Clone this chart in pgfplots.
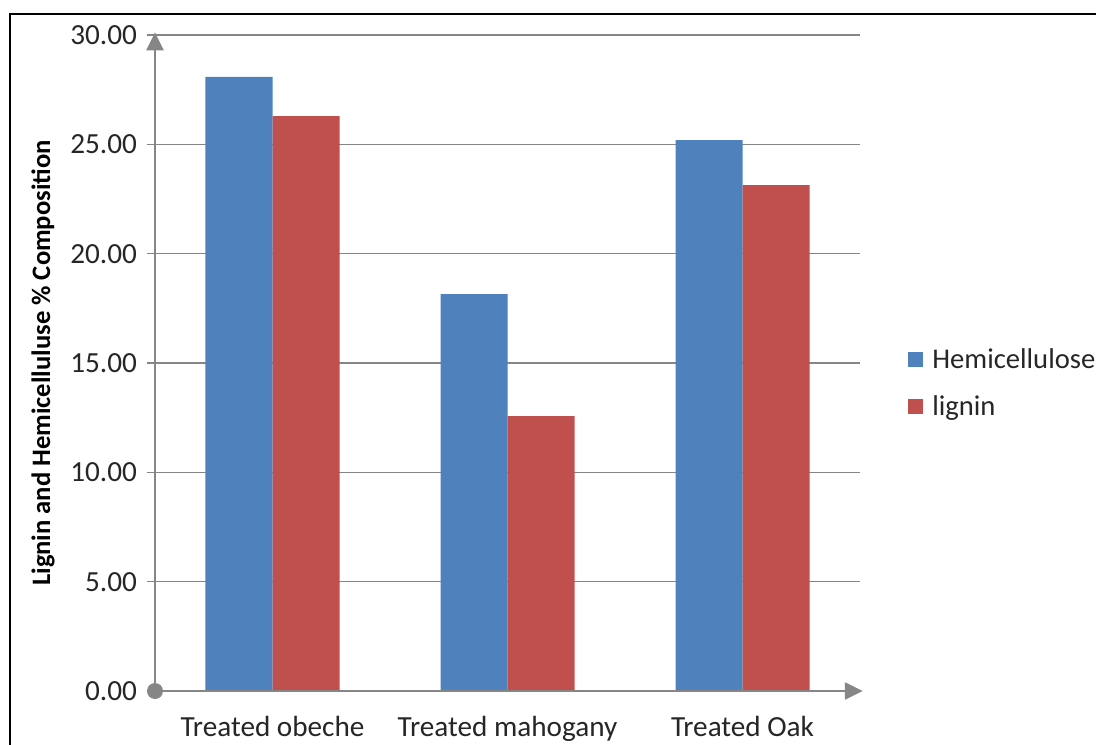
\documentclass[border=0pt]{standalone}
\usepackage{pgfplots}
\pgfplotsset{compat=1.18}
\usepackage{fontspec}
\setmainfont{Carlito}
\usetikzlibrary{arrows.meta}
\definecolor{hemi}{RGB}{79,129,189}
\definecolor{lig}{RGB}{192,80,77}
\definecolor{axgray}{RGB}{134,134,134}
\definecolor{txt}{RGB}{38,38,38}
\begin{document}
\begin{tikzpicture}
\useasboundingbox (-77.5pt,-26.5pt) rectangle (470.5pt,345.5pt);
\draw[line width=0.8pt,black] (-72.5pt,-30pt) -- (-72.5pt,338.5pt) -- (475pt,338.5pt);
\begin{axis}[
  at={(0pt,0pt)}, anchor=south west,
  scale only axis,
  width=352.5pt, height=328pt,
  xmin=-0.5, xmax=2.5, ymin=0, ymax=30,
  ybar=0pt, bar width=33.5pt,
  axis line style={draw=none},
  xtick={0,1,2},
  xticklabels={Treated obeche,Treated mahogany,Treated Oak},
  x tick style={draw=none},
  ytick={0,5,10,15,20,25,30},
  ytick pos=left,
  yticklabel={\pgfmathprintnumber[fixed,fixed zerofill,precision=2]{\tick}},
  /pgf/number format/assume math mode=true,
  tick align=outside,
  major tick length=4pt,
  y tick style={axgray,line width=0.6pt},
  ymajorgrids, grid style={axgray,line width=0.6pt},
  tick label style={font=\fontsize{14.6}{17}\selectfont,text=txt},
  xticklabel style={yshift=-5pt},
  yticklabel style={xshift=-1.5pt},
  ylabel={\bfseries Lignin and Hemicelluluse \% Composition},
  every axis y label/.style={at={(rel axis cs:0,0.5)},rotate=90,anchor=center,yshift=56pt,
    font=\fontsize{13.3}{16}\selectfont,text=black},
  legend style={at={(rel axis cs:1.068,0.469)},anchor=west,draw=none,fill=none,
    font=\fontsize{14.3}{17}\selectfont,text=txt,row sep=8pt,inner sep=0pt,
    /tikz/every odd column/.append style={column sep=2.5pt}},
  legend cell align=left,
  legend image code/.code={\fill[#1] (0pt,-3.5pt) rectangle (7.5pt,4pt);},
  clip=false,
]
\addplot[fill=hemi,draw=none] coordinates {(0,28.08) (1,18.15) (2,25.19)};
\addplot[fill=lig,draw=none] coordinates {(0,26.29) (1,12.57) (2,23.14)};
\legend{Hemicellulose,lignin}
\draw[axgray,line width=1.2pt,-{Triangle[width=8.5pt,length=9pt]}] (rel axis cs:0,0) -- (rel axis cs:0,1.004);
\draw[axgray,line width=1.2pt,-{Triangle[width=8.5pt,length=9pt]}] (rel axis cs:0,0) -- (rel axis cs:1.004,0);
\fill[axgray] (rel axis cs:0,0) circle (4pt);
\end{axis}
\end{tikzpicture}
\end{document}
